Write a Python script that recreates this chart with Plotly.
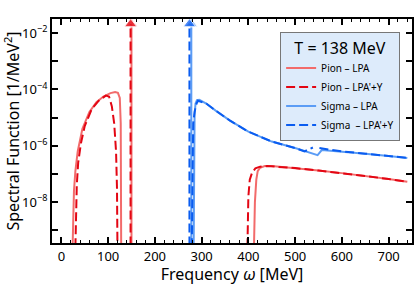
import plotly.graph_objects as go

# ---------------- data (log10 of spectral function) ----------------
pion_lpa_x1 = [24, 25, 27, 30, 35, 45, 60, 75, 90, 105, 115, 121, 125, 127, 128]
pion_lpa_y1 = [-9.6, -8.5, -7.6, -6.9, -6.2, -5.4, -4.8, -4.45, -4.25, -4.13, -4.09, -4.12, -4.3, -5.2, -9.6]
pion_lpa_x2 = [412, 414, 417, 420, 425, 435, 450, 500, 550, 600, 650, 700, 740]
pion_lpa_y2 = [-9.6, -8.0, -7.2, -6.9, -6.78, -6.72, -6.72, -6.79, -6.88, -6.97, -7.07, -7.18, -7.28]

pion_y_x1 = [30, 31, 33, 36, 42, 50, 65, 80, 95, 102, 108, 113, 117, 119, 120]
pion_y_y1 = [-9.6, -8.3, -7.4, -6.6, -5.9, -5.3, -4.7, -4.4, -4.22, -4.25, -4.6, -5.2, -6.2, -7.5, -9.6]
pion_y_x2 = [398, 400, 403, 408, 415, 425, 440, 500, 550, 600, 650, 700, 740]
pion_y_y2 = [-9.6, -7.8, -7.2, -6.95, -6.8, -6.74, -6.72, -6.79, -6.88, -6.97, -7.07, -7.18, -7.28]

sigma_lpa_x = [283, 284, 285, 287, 290, 295, 310, 330, 360, 400, 450, 500, 520, 535, 548, 557, 600, 650, 700, 740]
sigma_lpa_y = [-9.6, -6.0, -4.9, -4.5, -4.38, -4.37, -4.5, -4.75, -5.1, -5.5, -5.85, -6.08, -6.18, -6.26, -6.33, -6.15, -6.2, -6.28, -6.36, -6.43]

sigma_y_x = [279, 280, 282, 285, 288, 292, 310, 330, 360, 400, 450, 500, 520, 538, None, 552, 600, 650, 700, 740]
sigma_y_y = [-9.6, -6.5, -5.2, -4.8, -4.55, -4.4, -4.5, -4.75, -5.1, -5.5, -5.85, -6.08, -6.2, -6.06, None, -6.08, -6.2, -6.28, -6.36, -6.43]

pion_delta_lpa = 150
pion_delta_y = 148
sigma_delta_lpa = 278
sigma_delta_y = 274

legend_title = "T = 138 MeV"
names = ["Pion – LPA", "Pion – LPA'+Y", "Sigma – LPA", "Sigma  – LPA'+Y"]

ytick_exps = [-2, -3, -4, -5, -6, -7, -8, -9]

# ---------------- styles ----------------
C_PL = "#f26b6b"
C_PY = "#e30613"
C_SL = "#5b9cf5"
C_SY = "#0a5cf0"
DASH = "9px,4px"
LW = 2


def pw(v):
    return [None if a is None else 10 ** a for a in v]


def join(xa, ya, xb, yb):
    return xa + [None] + xb, ya + [None] + yb


fig = go.Figure()

# delta spikes (drawn first, beneath)
BOT = 1e-10
TOP = 10 ** -1.68
for xv, col, dash in [(pion_delta_lpa, C_PL, "solid"), (pion_delta_y, C_PY, DASH),
                      (sigma_delta_lpa, C_SL, "solid"), (sigma_delta_y, C_SY, DASH)]:
    fig.add_trace(go.Scatter(
        x=[xv, xv], y=[BOT, TOP], mode="lines+markers",
        line=dict(color=col, width=LW, dash=dash),
        marker=dict(symbol="triangle-up", size=[0, 11], color=col),
        showlegend=False, cliponaxis=False, hoverinfo="skip"))

x, y = join(pion_lpa_x1, pion_lpa_y1, pion_lpa_x2, pion_lpa_y2)
fig.add_trace(go.Scatter(x=x, y=pw(y), mode="lines", name=names[0],
                         line=dict(color=C_PL, width=LW)))
x, y = join(pion_y_x1, pion_y_y1, pion_y_x2, pion_y_y2)
fig.add_trace(go.Scatter(x=x, y=pw(y), mode="lines", name=names[1],
                         line=dict(color=C_PY, width=LW, dash=DASH)))
fig.add_trace(go.Scatter(x=sigma_lpa_x, y=pw(sigma_lpa_y), mode="lines", name=names[2],
                         line=dict(color=C_SL, width=LW)))
fig.add_trace(go.Scatter(x=sigma_y_x, y=pw(sigma_y_y), mode="lines", name=names[3],
                         line=dict(color=C_SY, width=LW, dash=DASH)))

FONT = "Noto Sans"
ticktext = [("10<sup>−%d</sup>" % (-e)) if e % 2 == 0 else "" for e in ytick_exps]

fig.update_layout(
    width=415, height=285,
    margin=dict(l=52, r=3, t=19, b=42, autoexpand=False),
    paper_bgcolor="white", plot_bgcolor="white",
    font=dict(family=FONT, size=13, color="black"),
    showlegend=True,
    legend=dict(x=0.967, y=0.943, xanchor="right", yanchor="top",
                bgcolor="#ddebfb", bordercolor="#777777", borderwidth=1,
                font=dict(size=10), itemwidth=30, tracegroupgap=0,
                title=dict(text=legend_title, side="top center", font=dict(size=16))),
    xaxis=dict(range=[-20, 750], showline=True, linecolor="black", linewidth=2, mirror="allticks",
               ticks="inside", ticklen=6, tickwidth=1.5, tickcolor="black", dtick=100, tick0=0,
               minor=dict(dtick=20, ticks="inside", ticklen=3, tickcolor="black", tickwidth=1),
               showgrid=False, zeroline=False, automargin=False,
               title=dict(text="Frequency <i>ω</i> [MeV]", standoff=6),
               tickfont=dict(size=13)),
    yaxis=dict(type="log", range=[-9.45, -1.5], showline=True, linecolor="black", linewidth=2,
               mirror="allticks", ticks="inside", ticklen=6, tickwidth=1.5, tickcolor="black",
               tickvals=[10 ** e for e in ytick_exps], ticktext=ticktext,
               showgrid=False, zeroline=False, automargin=False,
               title=dict(text="Spectral Function [1/MeV<sup>2</sup>]", standoff=4),
               tickfont=dict(size=13)),
)

fig.write_html("out.html", config={"displayModeBar": False},
               post_script="document.body.style.margin='0';document.body.style.padding='0';")
